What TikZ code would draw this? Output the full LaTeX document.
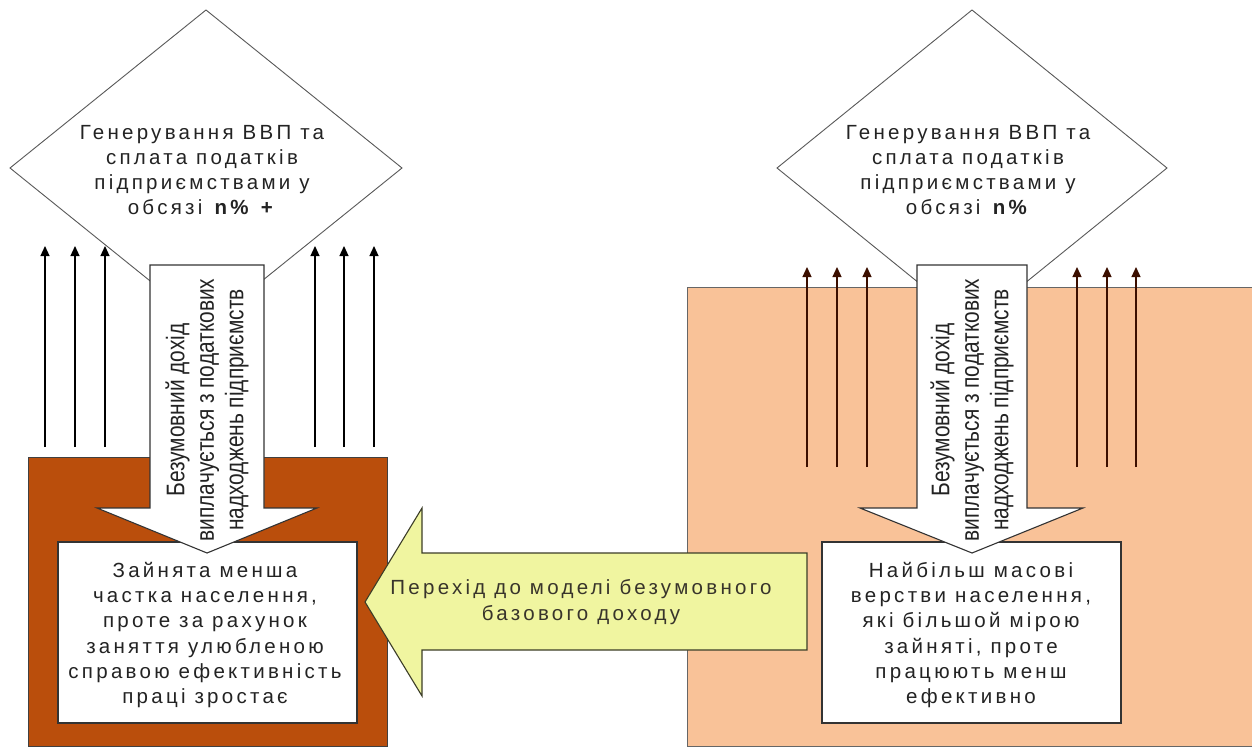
\documentclass[tikz,border=0pt]{standalone}
\usepackage{fontspec}
\setmainfont{Liberation Sans}
\newfontfamily\spacedfont[LetterSpace=16]{Liberation Sans}
\newfontfamily\narrowfont[FakeStretch=0.82]{Liberation Sans}
\usetikzlibrary{arrows.meta}
\definecolor{brownbox}{RGB}{186,78,12}
\definecolor{peachbox}{RGB}{249,194,152}
\definecolor{yelbox}{RGB}{240,245,160}
\definecolor{inkc}{RGB}{35,35,35}
\definecolor{uparc}{RGB}{60,15,0}
\tikzset{
  upar/.style={-{Triangle[length=10pt,width=9pt]}, line width=1.2pt},
  diam/.style={draw=black!65, line width=0.9pt, fill=white},
  wbox/.style={draw=black!80, line width=1.1pt, fill=white},
  warrow/.style={draw=black!80, line width=1.1pt, fill=white},
  yarrow/.style={draw=black!75!yelbox, line width=1.1pt, fill=yelbox},
  txt/.style={font=\spacedfont\fontsize{20.5}{25.3}\selectfont, align=center, text=inkc, inner sep=0pt},
  rtxt/.style={font=\narrowfont\fontsize{25.5}{29.5}\selectfont, align=center, text=inkc, inner sep=0pt, rotate=90}
}
\begin{document}
\begin{tikzpicture}[x=1pt,y=-1pt]
\path[use as bounding box, fill=white] (0,0) rectangle (1252,747);
% background boxes
\draw[draw=black!75, line width=1pt, fill=brownbox] (28,457) rectangle (387,746);
\draw[draw=black!60, line width=1pt, fill=peachbox] (687,287) rectangle (1260,746);
% diamonds
\draw[diam] (206,10) -- (402,168) -- (206,326) -- (10,168) -- cycle;
\draw[diam] (972,10) -- (1167,168) -- (972,326) -- (777,168) -- cycle;
% upward arrows
\foreach \x in {45,75,105,315,344,374}{
  \coordinate (lb\x) at (\x,447); \coordinate (lt\x) at (\x,246);
  \draw[upar, black] (lb\x) -- (lt\x);
}
\foreach \x in {807,837,867,1077,1107,1136}{
  \coordinate (rb\x) at (\x,467); \coordinate (rt\x) at (\x,267);
  \draw[upar, uparc] (rb\x) -- (rt\x);
}
% white boxes
\draw[wbox] (58,542) rectangle (357,723);
\draw[wbox] (822,542) rectangle (1121,723);
% vertical arrows
\draw[warrow] (150,265) -- (264,265) -- (264,508) -- (317,508) -- (207,553) -- (97,508) -- (150,508) -- cycle;
\draw[warrow] (917,265) -- (1027,265) -- (1027,508) -- (1083,508) -- (972,553) -- (860,508) -- (917,508) -- cycle;
% yellow arrow
\draw[yarrow] (807,553) -- (422,553) -- (422,508) -- (365,602) -- (422,696) -- (422,650) -- (807,650) -- cycle;
% texts
\node[txt] (ld) at (202,170) {Генерування ВВП та\\сплата податків\\підприємствами у\\обсязі \textbf{n\%} \textbf{+}};
\node[txt] (rd) at (968,170) {Генерування ВВП та\\сплата податків\\підприємствами у\\обсязі \textbf{n\%}};
\node[rtxt] (la) at (207,410) {Безумовний дохід\\виплачується з податкових\\надходжень підприємств};
\node[rtxt] (ra) at (972,410) {Безумовний дохід\\виплачується з податкових\\надходжень підприємств};
\node[txt] (lbx) at (205,635) {Зайнята менша\\частка населення,\\проте за рахунок\\заняття улюбленою\\справою ефективність\\праці зростає};
\node[txt] (rbx) at (971,635) {Найбільш масові\\верстви населення,\\які більшой мірою\\зайняті, проте\\працюють менш\\ефективно};
\node[txt, text=black!80!olive] (ya) at (581,602) {Перехід до моделі безумовного\\базового доходу};
\end{tikzpicture}
\end{document}
